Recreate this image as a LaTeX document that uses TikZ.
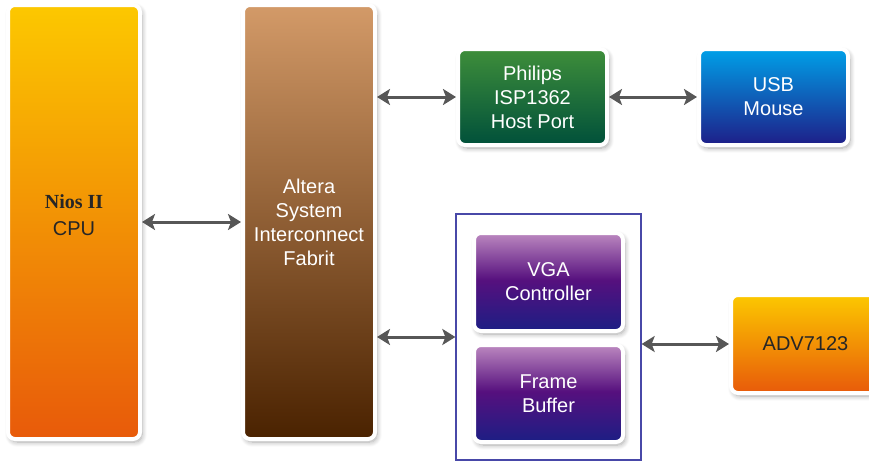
\documentclass[tikz,border=0pt]{standalone}
\usepackage{fontspec}
\setmainfont{Liberation Sans}
\newfontfamily\serifbold{Liberation Serif}
\usetikzlibrary{arrows.meta,shadows.blur}
\definecolor{cpuTop}{HTML}{FCC800}
\definecolor{cpuBot}{HTML}{E85A0A}
\definecolor{fabTop}{HTML}{D39A68}
\definecolor{fabBot}{HTML}{4A2200}
\definecolor{phTop}{HTML}{3E8E3A}
\definecolor{phBot}{HTML}{00503A}
\definecolor{usbTop}{HTML}{00A0E8}
\definecolor{usbBot}{HTML}{1E1E88}
\definecolor{vgaTop}{HTML}{BC88C0}
\definecolor{vgaMid}{HTML}{56107E}
\definecolor{vgaBot}{HTML}{1C1E84}
\definecolor{frameCol}{HTML}{4848A8}
\definecolor{arrowCol}{HTML}{575757}
\pgfdeclareverticalshading{cpush}{100bp}{color(0bp)=(cpuBot); color(25bp)=(cpuBot); color(75bp)=(cpuTop); color(100bp)=(cpuTop)}
\pgfdeclareverticalshading{fabsh}{100bp}{color(0bp)=(fabBot); color(25bp)=(fabBot); color(75bp)=(fabTop); color(100bp)=(fabTop)}
\pgfdeclareverticalshading{phsh}{100bp}{color(0bp)=(phBot); color(25bp)=(phBot); color(75bp)=(phTop); color(100bp)=(phTop)}
\pgfdeclareverticalshading{usbsh}{100bp}{color(0bp)=(usbBot); color(25bp)=(usbBot); color(75bp)=(usbTop); color(100bp)=(usbTop)}
\pgfdeclareverticalshading{vgash}{100bp}{color(0bp)=(vgaBot); color(25bp)=(vgaBot); color(51bp)=(vgaMid); color(75bp)=(vgaTop); color(100bp)=(vgaTop)}
\tikzset{
  blk/.style={draw=white, line width=4pt, rounded corners=7pt, inner sep=0pt,
    align=center, font=\fontsize{20}{24}\selectfont, text=white,
    blur shadow={shadow xshift=2pt, shadow yshift=-3pt, shadow blur steps=8, shadow opacity=35, shadow blur radius=5pt}},
  link/.style={arrowCol, line width=3pt, {Stealth[length=13pt,width=16pt,inset=3pt]}-{Stealth[length=13pt,width=16pt,inset=3pt]}}
}
\begin{document}
\begin{tikzpicture}[x=1pt,y=-1pt]
\useasboundingbox (0,0) rectangle (869,461);
\node[blk, shading=cpush, minimum width=132pt, minimum height=434pt,
  label={[yshift=7pt, align=center, font=\fontsize{20}{27}\selectfont, text=black!85]center:{\serifbold\bfseries Nios II\\CPU}}] (cpu) at (74,222) {};
\node[blk, shading=fabsh, minimum width=132pt, minimum height=434pt] (fab) at (309,222) {Altera\\System\\Interconnect\\Fabrit};
\node[blk, shading=phsh, minimum width=149pt, minimum height=96pt] (ph) at (532.5,97) {Philips\\ISP1362\\Host Port};
\node[blk, shading=usbsh, minimum width=149pt, minimum height=96pt] (usb) at (773.5,97) {USB\\Mouse};
\node[draw=frameCol, line width=1.3pt, minimum width=185pt, minimum height=246pt, inner sep=0pt] (sub) at (548.5,337) {};
\node[blk, shading=vgash, minimum width=149pt, minimum height=98pt] (vga) at (548.5,282) {VGA\\Controller};
\node[blk, shading=vgash, minimum width=149pt, minimum height=97pt] (fb) at (548.5,393.5) {Frame\\Buffer};
\node[blk, shading=cpush, minimum width=149pt, minimum height=98pt, text=black!85] (adv) at (805.5,344) {ADV7123};
\draw[link] (cpu.east) -- (fab.west);
\draw[link] (fab.east |- ph.west) -- (ph.west);
\draw[link] (ph.east) -- (usb.west);
\draw[link] (fab.east |- sub.west) -- (sub.west);
\draw[link] (sub.east |- adv.west) -- (adv.west);
\end{tikzpicture}
\end{document}
